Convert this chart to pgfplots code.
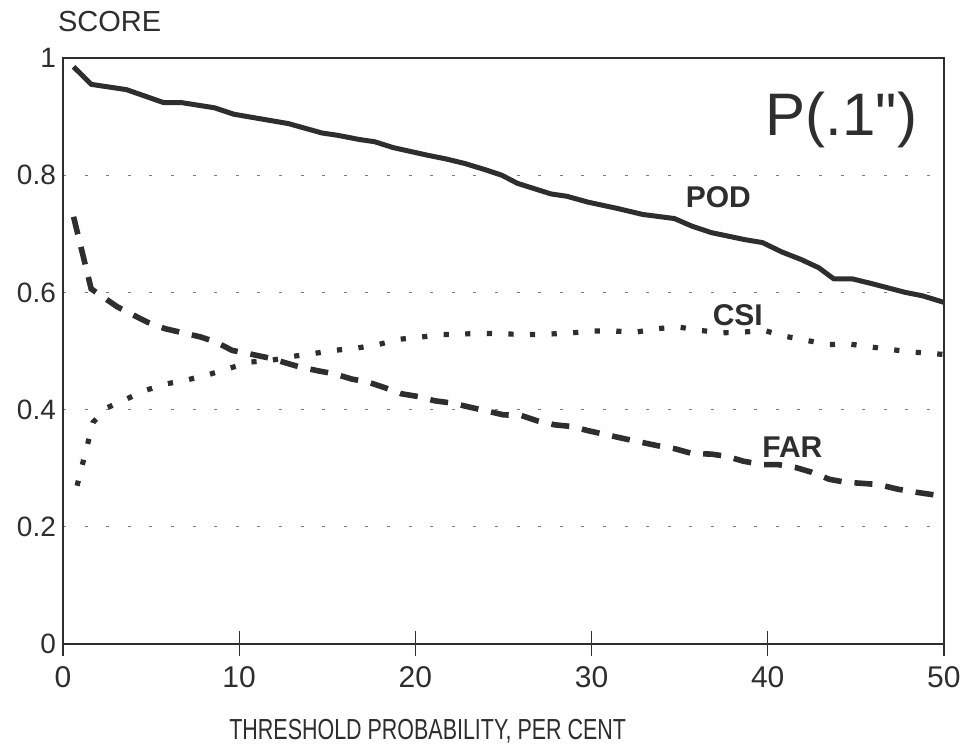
\documentclass[border=0pt]{standalone}
\usepackage{pgfplots}
\pgfplotsset{compat=1.18}
\usepackage{fontspec}
\setmainfont{Liberation Sans}
\newfontfamily\condfont[FakeStretch=0.74]{Liberation Sans}
\definecolor{ink}{HTML}{2E2E2E}
\definecolor{gridgray}{HTML}{7A7A7A}

\begin{document}
\begin{tikzpicture}
\begin{axis}[
    scale only axis,
    width=440.5pt,
    height=293pt,
    xmin=0, xmax=50,
    ymin=0, ymax=1,
    xtick={0,10,...,50},
    minor xtick={0,10,...,50},
    ytick={0,0.2,0.4,0.6,0.8,1},
    xtick pos=bottom,
    tick align=center,
    major tick length=0pt,
    minor tick length=12.5pt,
    every tick/.append style={draw=ink, line width=0.6pt},
    ymajorgrids,
    major grid style={gridgray, line width=0.5pt, dash pattern=on 1.5pt off 9.3pt},
    axis line style={ink, line width=0.8pt},
    tick label style={text=ink},
    yticklabel style={font=\fontsize{14}{16}\selectfont},
    xticklabel style={font=\fontsize{15}{17}\selectfont, yshift=-8pt},
    /pgf/number format/assume math mode=true,
    xlabel={THRESHOLD PROBABILITY, PER CENT},
    xlabel style={font=\condfont\fontsize{14.5}{16}\selectfont, text=ink,
        at={(rel axis cs:0.414,0)}, anchor=north, inner sep=0pt, yshift=-37.5pt},
    clip=false,
]
% POD
\addplot[ink, line width=2.5pt, line join=round] coordinates {
(0.6,0.985) (1.6,0.955) (3.6,0.946) (5.7,0.924) (6.7,0.924) (8.6,0.915)
(9.7,0.904) (12.8,0.888) (14.7,0.872) (15.6,0.868) (16.8,0.861) (17.7,0.857)
(18.75,0.847) (19.8,0.840) (20.7,0.834) (21.7,0.828) (22.8,0.820) (24.0,0.809)
(24.9,0.800) (25.8,0.786) (27.7,0.768) (28.6,0.764) (29.8,0.754) (31.5,0.743)
(32.9,0.733) (34.7,0.726) (35.7,0.713) (36.8,0.702) (38.7,0.690) (39.7,0.685)
(40.8,0.669) (41.9,0.656) (42.9,0.642) (43.75,0.623) (44.8,0.623) (45.9,0.615)
(47.8,0.600) (48.8,0.594) (50,0.583)
};
% FAR
\addplot[ink, line width=2.8pt, dash pattern=on 9pt off 6.5pt] coordinates {
(0.6,0.729) (1.6,0.606) (3.1,0.575) (4.8,0.549) (5.8,0.538) (7.8,0.524)
(8.7,0.515) (9.6,0.501) (10.6,0.495) (11.7,0.488) (13.4,0.473) (14.5,0.466)
(15.4,0.461) (16.4,0.452) (17.3,0.447) (18.3,0.437) (19.2,0.427) (20.2,0.422)
(21.1,0.415) (22.1,0.411) (23.1,0.404) (24.0,0.398) (25.0,0.391) (26.0,0.390)
(27.0,0.380) (27.9,0.374) (28.9,0.371) (29.8,0.364) (31.0,0.356) (31.9,0.350)
(33.8,0.338) (34.75,0.333) (35.7,0.325) (36.8,0.324) (37.7,0.320) (38.6,0.312)
(39.7,0.306) (40.6,0.306) (41.6,0.301) (42.5,0.293) (43.5,0.281) (44.4,0.276)
(45.4,0.274) (46.3,0.272) (47.4,0.264) (48.4,0.259) (50,0.252)
};
% CSI
\addplot[ink, line width=2.6pt, dash pattern=on 2.6pt off 8.2pt] coordinates {
(0.8,0.270) (1.1,0.306) (1.4,0.341) (1.7,0.378) (2.5,0.403) (3.6,0.418)
(4.7,0.433) (5.9,0.444) (7.1,0.451) (8.3,0.460) (9.5,0.471) (10.6,0.481)
(11.8,0.484) (13.1,0.491) (14.3,0.496) (15.4,0.501) (16.7,0.505) (17.9,0.511)
(19.1,0.520) (20.4,0.524) (21.5,0.528) (22.7,0.529) (24.0,0.530) (25.2,0.529)
(26.4,0.528) (27.7,0.529) (28.9,0.531) (30.1,0.534) (31.3,0.534) (32.5,0.532)
(33.7,0.538) (34.9,0.541) (36.2,0.535) (37.4,0.531) (38.5,0.532) (39.8,0.535)
(41.0,0.525) (42.2,0.518) (43.5,0.511) (44.6,0.512) (45.8,0.507) (47.1,0.502)
(48.3,0.498) (50,0.494)
};
\node[text=ink, font=\bfseries\fontsize{15}{17}\selectfont] at (axis cs:37.2,0.762) {POD};
\node[text=ink, font=\bfseries\fontsize{15}{17}\selectfont] at (axis cs:38.3,0.561) {CSI};
\node[text=ink, font=\bfseries\fontsize{15}{17}\selectfont] at (axis cs:41.4,0.335) {FAR};
\node[text=ink, anchor=base east, inner sep=0pt, font=\fontsize{30}{33}\selectfont] at (axis cs:48.5,0.868) {P(.1\textquotedbl)};
\node[text=ink, anchor=base west, inner sep=0pt, font=\fontsize{14.5}{16}\selectfont] at (axis cs:-0.3,1.046) {SCORE};
\coordinate (bl) at (axis cs:-3.575,-0.174);
\coordinate (tr) at (axis cs:51.31,1.099);
\end{axis}
\pgfresetboundingbox
\path (bl) rectangle (tr);
\end{tikzpicture}
\end{document}
